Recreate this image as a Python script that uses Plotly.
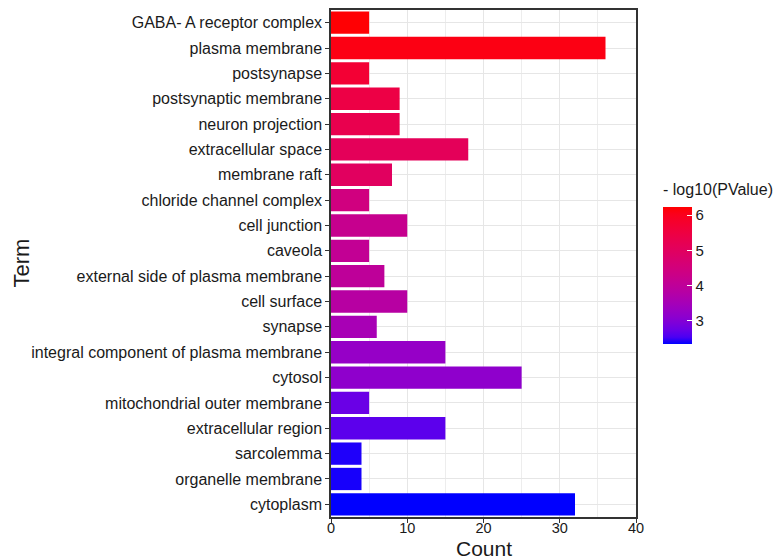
import plotly.graph_objects as go

terms = [
    "GABA- A receptor complex", "plasma membrane", "postsynapse",
    "postsynaptic membrane", "neuron projection", "extracellular space",
    "membrane raft", "chloride channel complex", "cell junction", "caveola",
    "external side of plasma membrane", "cell surface", "synapse",
    "integral component of plasma membrane", "cytosol",
    "mitochondrial outer membrane", "extracellular region", "sarcolemma",
    "organelle membrane", "cytoplasm",
]
counts = [5, 36, 5, 9, 9, 18, 8, 5, 10, 5, 7, 10, 6, 15, 25, 5, 15, 4, 4, 32]
neglog_p = [6.22, 6.1, 5.7, 5.45, 5.3, 5.1, 5.0, 4.45, 4.2, 4.1, 4.0, 3.85,
            3.55, 3.25, 3.15, 2.75, 2.65, 2.42, 2.4, 2.34]
x_ticks = [0, 10, 20, 30, 40]
cb_ticks = [3, 4, 5, 6]
cmin, cmax = 2.34, 6.24


# ggplot-like gradient (interpolated in CIELAB) from blue to red
def _srgb_to_lab(rgb):
    def lin(c):
        c = c / 255.0
        return c / 12.92 if c <= 0.04045 else ((c + 0.055) / 1.055) ** 2.4
    r, g, b = (lin(v) for v in rgb)
    X = 0.4124 * r + 0.3576 * g + 0.1805 * b
    Y = 0.2126 * r + 0.7152 * g + 0.0722 * b
    Z = 0.0193 * r + 0.1192 * g + 0.9505 * b
    Xn, Yn, Zn = 0.95047, 1.0, 1.08883

    def f(t):
        return t ** (1 / 3) if t > 216 / 24389 else (24389 / 27 * t + 16) / 116
    fx, fy, fz = f(X / Xn), f(Y / Yn), f(Z / Zn)
    return (116 * fy - 16, 500 * (fx - fy), 200 * (fy - fz))


def _lab_to_srgb(lab):
    L, a, b = lab
    fy = (L + 16) / 116
    fx = fy + a / 500
    fz = fy - b / 200

    def finv(t):
        return t ** 3 if t ** 3 > 216 / 24389 else (116 * t - 16) / (24389 / 27)
    Xn, Yn, Zn = 0.95047, 1.0, 1.08883
    X, Y, Z = finv(fx) * Xn, finv(fy) * Yn, finv(fz) * Zn
    r = 3.2406 * X - 1.5372 * Y - 0.4986 * Z
    g = -0.9689 * X + 1.8758 * Y + 0.0415 * Z
    bb = 0.0557 * X - 0.2040 * Y + 1.0570 * Z

    def gam(c):
        c = max(0.0, min(1.0, c))
        return 12.92 * c if c <= 0.0031308 else 1.055 * c ** (1 / 2.4) - 0.055
    return tuple(int(round(gam(c) * 255)) for c in (r, g, bb))


lo = _srgb_to_lab((0, 0, 255))
hi = _srgb_to_lab((255, 0, 0))
n = 21
colorscale = []
for i in range(n):
    t = i / (n - 1)
    lab = tuple(lo[k] + (hi[k] - lo[k]) * t for k in range(3))
    rgb = _lab_to_srgb(lab)
    colorscale.append([t, "rgb(%d,%d,%d)" % rgb])

font_family = "Liberation Sans, Arial, sans-serif"
txt = "#1a1a1a"

fig = go.Figure(
    go.Bar(
        x=counts,
        y=terms,
        orientation="h",
        marker=dict(
            color=neglog_p,
            colorscale=colorscale,
            cmin=cmin,
            cmax=cmax,
            line=dict(width=0),
            colorbar=dict(
                title=dict(text=""),
                thickness=29,
                thicknessmode="pixels",
                len=137,
                lenmode="pixels",
                x=1.087,
                xanchor="left",
                y=0.612,
                yanchor="top",
                xpad=0,
                ypad=0,
                outlinewidth=0,
                tickvals=cb_ticks,
                ticks="inside",
                ticklen=5,
                tickcolor="white",
                tickwidth=1,
                tickfont=dict(size=15, color=txt),
            ),
        ),
        showlegend=False,
    )
)

# page body has an 8px margin: offsets below compensate so the panel
# sits where the reference has it
fig.update_layout(
    width=782,
    height=560,
    margin=dict(l=323, r=154, t=2, b=51, autoexpand=False),
    plot_bgcolor="white",
    paper_bgcolor="white",
    bargap=0.12,
    font=dict(family=font_family, color=txt),
    annotations=[
        dict(text="Count", xref="paper", yref="paper", x=0.5, y=0,
             xanchor="center", yanchor="middle", yshift=-31,
             showarrow=False, font=dict(size=21, color=txt)),
        dict(text="Term", xref="paper", yref="paper", x=0, y=0.5,
             xanchor="center", yanchor="middle", xshift=-310, textangle=-90,
             showarrow=False, font=dict(size=22, color=txt)),
        dict(text="- log10(PValue)", xref="paper", yref="paper", x=1.083,
             y=0.645, xanchor="left", yanchor="middle",
             showarrow=False, font=dict(size=16, color=txt)),
    ],
)

fig.update_xaxes(
    range=[0, 40],
    tickvals=x_ticks,
    ticks="outside",
    ticklen=4,
    tickcolor="#333333",
    tickfont=dict(size=14.5, color=txt),
    ticklabelstandoff=-7,
    showgrid=True,
    gridcolor="#e6e6e6",
    gridwidth=1,
    minor=dict(dtick=5, showgrid=True, gridcolor="#ededed", gridwidth=1),
    zeroline=False,
    showline=True,
    mirror=True,
    linecolor="#333333",
    linewidth=1.5,
)

fig.update_yaxes(
    categoryorder="array",
    categoryarray=terms,
    autorange="reversed",
    ticks="outside",
    ticklen=4,
    tickcolor="#333333",
    tickfont=dict(size=16, color=txt),
    showgrid=True,
    gridcolor="#e6e6e6",
    gridwidth=1,
    zeroline=False,
    showline=True,
    mirror=True,
    linecolor="#333333",
    linewidth=1.5,
)

fig.write_html("out.html")
